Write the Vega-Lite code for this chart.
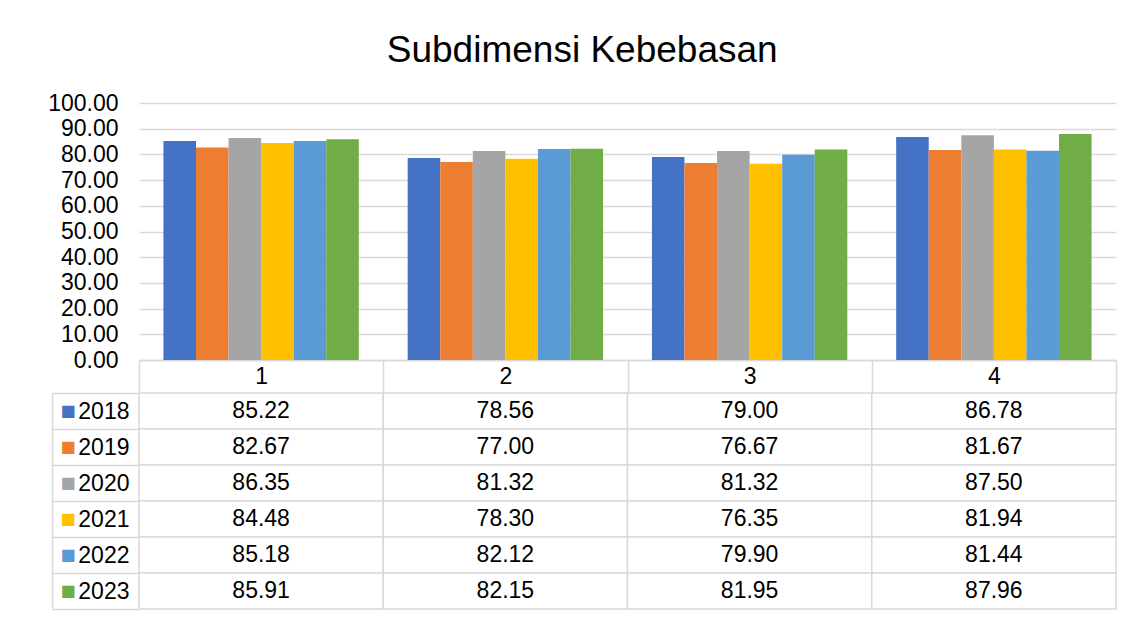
{
  "$schema": "https://vega.github.io/schema/vega-lite/v6.json",
  "background": "white",
  "padding": {"left": 47, "top": 32, "right": 5, "bottom": 5},
  "datasets": {
    "scores": [
      {"cat": "1", "year": "2018", "value": 85.22},
      {"cat": "1", "year": "2019", "value": 82.67},
      {"cat": "1", "year": "2020", "value": 86.35},
      {"cat": "1", "year": "2021", "value": 84.48},
      {"cat": "1", "year": "2022", "value": 85.18},
      {"cat": "1", "year": "2023", "value": 85.91},
      {"cat": "2", "year": "2018", "value": 78.56},
      {"cat": "2", "year": "2019", "value": 77.00},
      {"cat": "2", "year": "2020", "value": 81.32},
      {"cat": "2", "year": "2021", "value": 78.30},
      {"cat": "2", "year": "2022", "value": 82.12},
      {"cat": "2", "year": "2023", "value": 82.15},
      {"cat": "3", "year": "2018", "value": 79.00},
      {"cat": "3", "year": "2019", "value": 76.67},
      {"cat": "3", "year": "2020", "value": 81.32},
      {"cat": "3", "year": "2021", "value": 76.35},
      {"cat": "3", "year": "2022", "value": 79.90},
      {"cat": "3", "year": "2023", "value": 81.95},
      {"cat": "4", "year": "2018", "value": 86.78},
      {"cat": "4", "year": "2019", "value": 81.67},
      {"cat": "4", "year": "2020", "value": 87.50},
      {"cat": "4", "year": "2021", "value": 81.94},
      {"cat": "4", "year": "2022", "value": 81.44},
      {"cat": "4", "year": "2023", "value": 87.96}
    ]
  },
  "title": {
    "text": "Subdimensi Kebebasan",
    "font": "Liberation Sans",
    "fontSize": 37,
    "fontWeight": "normal",
    "color": "#000000",
    "anchor": "middle",
    "offset": 22
  },
  "spacing": 33,
  "bounds": "flush",
  "resolve": {"scale": {"x": "independent", "y": "independent"}},
  "vconcat": [
    {
      "width": 977,
      "height": 257,
      "data": {"name": "scores"},
      "mark": {"type": "bar"},
      "encoding": {
        "x": {
          "field": "cat", "type": "nominal",
          "scale": {"paddingInner": 0.2, "paddingOuter": 0.1},
          "axis": {"labels": false, "ticks": false, "title": null, "domainColor": "#d9d9d9", "domainWidth": 1.5}
        },
        "xOffset": {
          "field": "year", "type": "nominal",
          "scale": {"paddingInner": 0, "paddingOuter": 0}
        },
        "y": {
          "field": "value", "type": "quantitative",
          "scale": {"domain": [0, 100], "nice": false},
          "axis": {
            "values": [0, 10, 20, 30, 40, 50, 60, 70, 80, 90, 100],
            "format": ".2f", "title": null, "domain": false, "ticks": false,
            "labelPadding": 21, "labelFontSize": 23, "labelColor": "#000000",
            "labelFont": "Liberation Sans", "gridColor": "#d9d9d9", "gridWidth": 1.5
          }
        },
        "color": {
          "field": "year", "type": "nominal",
          "scale": {
            "domain": ["2018", "2019", "2020", "2021", "2022", "2023"],
            "range": ["#4472C4", "#ED7D31", "#A5A5A5", "#FFC000", "#5B9BD5", "#70AD47"]
          },
          "legend": null
        }
      }
    },
    {
      "width": 977,
      "height": 216,
      "data": {"name": "scores"},
      "encoding": {
        "x": {
          "field": "cat", "type": "nominal",
          "scale": {"paddingInner": 0, "paddingOuter": 0},
          "axis": {
            "orient": "top", "title": null, "domain": false, "ticks": true,
            "tickBand": "extent", "tickSize": 33, "tickColor": "#d9d9d9", "tickWidth": 1.5,
            "labelPadding": -16.5, "labelBaseline": "middle", "labelAngle": 0,
            "labelFontSize": 23, "labelColor": "#000000", "labelFont": "Liberation Sans", "grid": false
          }
        }
      },
      "layer": [
        {
          "mark": {"type": "rect", "fill": "white", "stroke": "#d9d9d9", "strokeWidth": 1.5},
          "encoding": {
            "y": {
              "field": "year", "type": "nominal",
              "scale": {"domain": ["2018", "2019", "2020", "2021", "2022", "2023"], "paddingInner": 0, "paddingOuter": 0},
              "axis": {
                "orient": "left", "offset": 87, "title": null,
                "domain": true, "domainColor": "#d9d9d9", "domainWidth": 1.5,
                "ticks": false, "grid": false,
                "labelExpr": "'■'", "labelFont": "DejaVu Sans", "labelFontSize": 16,
                "labelAlign": "left", "labelPadding": -8,
                "labelColor": {
                  "condition": [
                    {"test": "datum.value === '2018'", "value": "#4472C4"},
                    {"test": "datum.value === '2019'", "value": "#ED7D31"},
                    {"test": "datum.value === '2020'", "value": "#A5A5A5"},
                    {"test": "datum.value === '2021'", "value": "#FFC000"},
                    {"test": "datum.value === '2022'", "value": "#5B9BD5"}
                  ],
                  "value": "#70AD47"
                }
              }
            }
          }
        },
        {
          "mark": {"type": "text", "font": "Liberation Sans", "fontSize": 23, "color": "#000000", "baseline": "middle", "align": "center"},
          "encoding": {
            "y": {
              "field": "year", "type": "nominal",
              "axis": {
                "orient": "left", "title": null, "domain": false,
                "ticks": true, "tickBand": "extent", "tickSize": 87, "tickColor": "#d9d9d9", "tickWidth": 1.5,
                "grid": false, "labelPadding": -77, "labelFontSize": 23,
                "labelColor": "#000000", "labelFont": "Liberation Sans"
              }
            },
            "text": {"field": "value", "type": "quantitative", "format": ".2f"}
          }
        }
      ],
      "resolve": {"axis": {"y": "independent"}}
    }
  ],
  "config": {"view": {"stroke": null}}
}
